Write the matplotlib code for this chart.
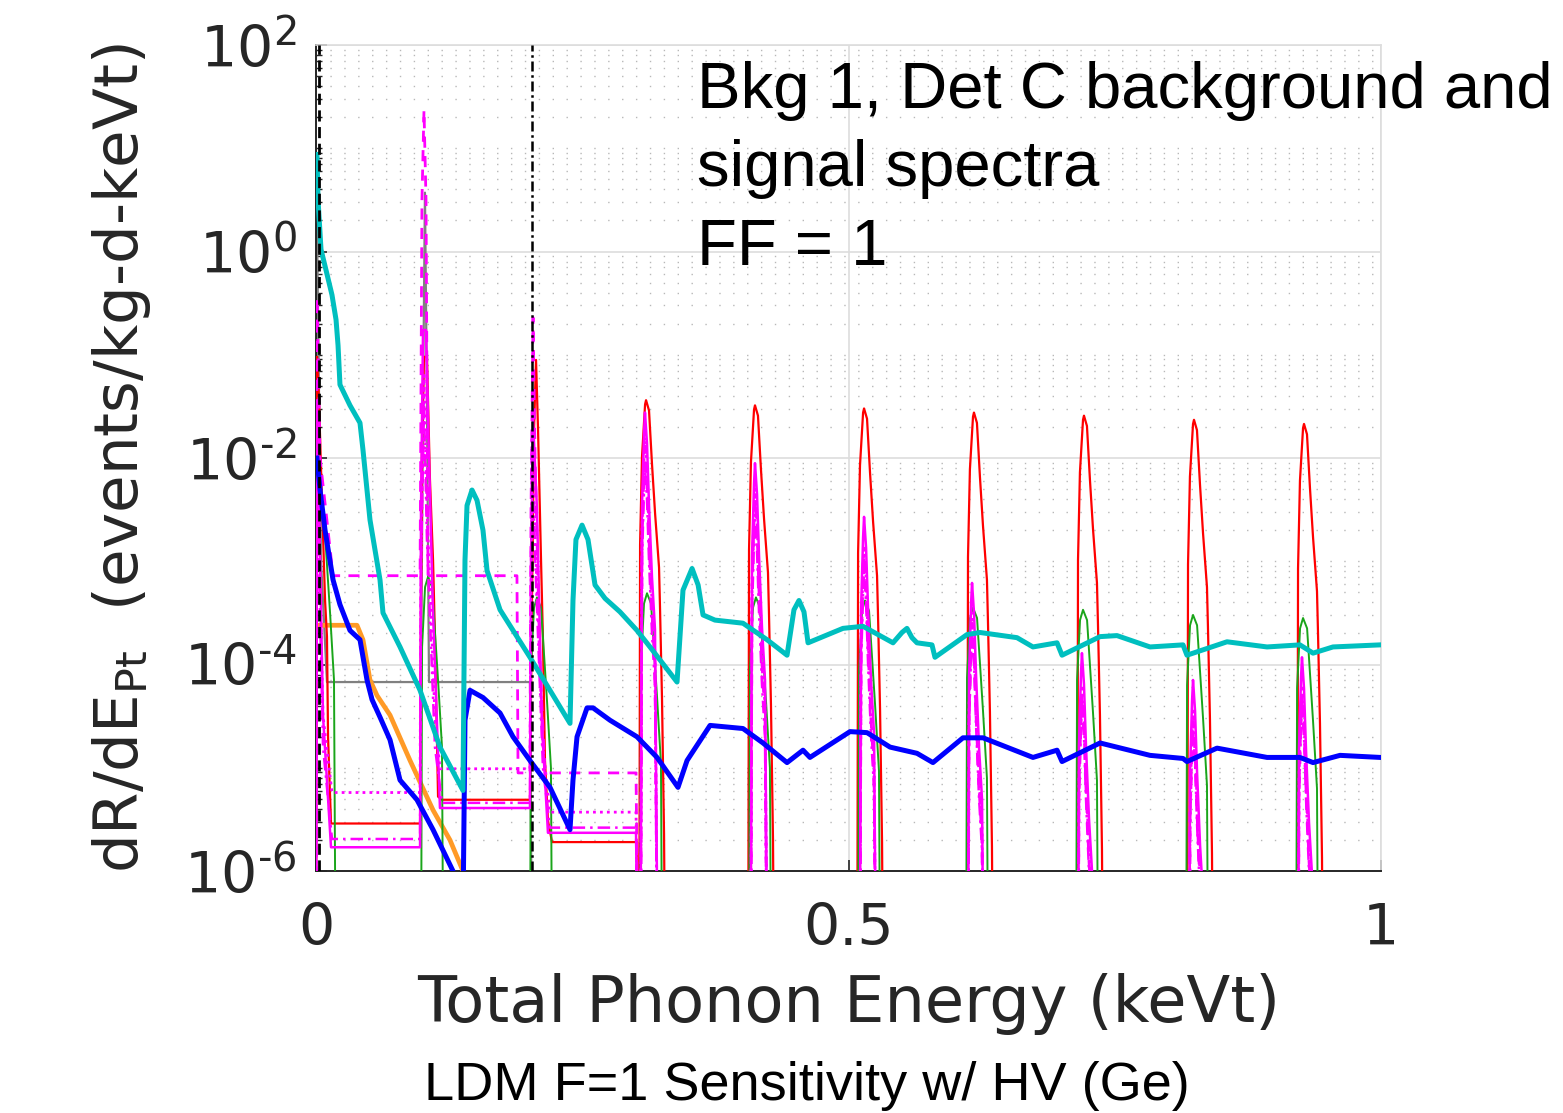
import numpy as np
import matplotlib
matplotlib.use("Agg")
import matplotlib.pyplot as plt
from matplotlib.ticker import LogLocator, FixedLocator, FixedFormatter, NullFormatter, FuncFormatter

# ---- data (x in keVt, y stored as log10 of dR/dE) ----
cyan_x = [0.0009, 0.0019, 0.0047, 0.0094, 0.0150, 0.0188, 0.0207, 0.0225, 0.0319, 0.0413,
          0.0441, 0.0507, 0.0601, 0.0629, 0.0789, 0.0977, 0.1164, 0.1380, 0.1399, 0.1418,
          0.1465, 0.1512, 0.1568, 0.1606, 0.1728, 0.2009, 0.2197, 0.2385, 0.2413, 0.2441,
          0.2498, 0.2554, 0.2620, 0.2714, 0.2854, 0.3014, 0.3136, 0.3390, 0.3446, 0.3531,
          0.3588, 0.3634, 0.3746, 0.4009, 0.4235, 0.4423, 0.4488, 0.4535, 0.4582, 0.4620,
          0.4948, 0.5136, 0.5418, 0.5502, 0.5549, 0.5596, 0.5643, 0.5784, 0.5812, 0.6113,
          0.6235, 0.6582, 0.6732, 0.6958, 0.7005, 0.7362, 0.7521, 0.7831, 0.8141, 0.8178,
          0.8554, 0.8930, 0.9239, 0.9362, 0.9549, 0.9991]
cyan_logy = [0.94, 0.50, 0.02, -0.18, -0.42, -0.66, -0.91, -1.29, -1.49, -1.66,
             -1.92, -2.60, -3.18, -3.50, -3.83, -4.25, -4.80, -5.22, -2.99, -2.46,
             -2.31, -2.41, -2.70, -3.09, -3.47, -3.93, -4.25, -4.57, -3.38, -2.79,
             -2.65, -2.79, -3.23, -3.36, -3.49, -3.67, -3.83, -4.17, -3.28, -3.07,
             -3.23, -3.52, -3.57, -3.60, -3.76, -3.91, -3.47, -3.38, -3.49, -3.79,
             -3.65, -3.63, -3.79, -3.69, -3.65, -3.74, -3.79, -3.81, -3.93, -3.71,
             -3.69, -3.74, -3.83, -3.79, -3.91, -3.73, -3.72, -3.83, -3.81, -3.91,
             -3.78, -3.83, -3.81, -3.89, -3.83, -3.81]

blue_x = [0.0009, 0.0038, 0.0085, 0.0160, 0.0225, 0.0319, 0.0413, 0.0479, 0.0526, 0.0601,
          0.0695, 0.0789, 0.0948, 0.1099, 0.1286, 0.1333, 0.1380, 0.1399, 0.1446, 0.1568,
          0.1728, 0.1850, 0.2009, 0.2197, 0.2385, 0.2413, 0.2451, 0.2545, 0.2601, 0.2761,
          0.3014, 0.3202, 0.3399, 0.3484, 0.3700, 0.4009, 0.4197, 0.4423, 0.4573, 0.4638,
          0.5014, 0.5174, 0.5390, 0.5643, 0.5793, 0.6075, 0.6263, 0.6732, 0.6958, 0.7005,
          0.7362, 0.7831, 0.8141, 0.8178, 0.8460, 0.8930, 0.9239, 0.9362, 0.9615, 0.9991]
blue_logy = [-2.00, -2.31, -2.70, -3.18, -3.42, -3.67, -3.76, -4.15, -4.34, -4.51,
             -4.73, -5.12, -5.31, -5.60, -6.00, -6.47, -6.47, -4.54, -4.25, -4.32,
             -4.47, -4.70, -4.93, -5.19, -5.60, -5.12, -4.70, -4.42, -4.42, -4.54,
             -4.70, -4.90, -5.19, -4.93, -4.59, -4.62, -4.76, -4.95, -4.83, -4.90,
             -4.65, -4.66, -4.80, -4.86, -4.95, -4.71, -4.71, -4.90, -4.83, -4.94,
             -4.76, -4.88, -4.91, -4.94, -4.81, -4.90, -4.90, -4.95, -4.88, -4.90]

orange_x = [0.0009, 0.0385, 0.0441, 0.0507, 0.0573, 0.0695, 0.0883, 0.1099, 0.1258, 0.1380, 0.1446]
orange_logy = [-3.62, -3.62, -3.76, -4.15, -4.30, -4.49, -4.93, -5.41, -5.70, -6.00, -6.28]

gray_x = [0.0000, 0.0009, 0.0047, 0.0103, 0.0986, 0.1005, 0.1023, 0.1042, 0.1061, 0.2009, 0.2028]
gray_logy = [-7.0, 0.30, -3.00, -4.17, -4.17, -1.50, 0.57, -1.50, -4.17, -4.17, -7.0]

# red: low-energy part, then periodic peaks
red_x = [0.0000, 0.0009, 0.0028, 0.0056, 0.0085, 0.0103, 0.0113, 0.0141, 0.0977, 0.0986,
         0.0995, 0.1014, 0.1042, 0.1070, 0.1099, 0.1117, 0.1146, 0.1183, 0.2009, 0.2028,
         0.2047, 0.2066, 0.2085, 0.2113, 0.2131, 0.2150, 0.2178, 0.2216, 0.3014]
red_logy = [-7.0, -1.02, -1.44, -2.41, -3.38, -3.73, -4.70, -5.54, -5.54, -3.38,
            -1.92, -1.02, -1.02, -2.21, -2.99, -3.73, -5.28, -5.31, -5.31, -3.38,
            -1.73, -1.05, -1.73, -2.99, -3.76, -4.93, -5.51, -5.72, -5.72]
red_peak_x = [0.3099, 0.4122, 0.5146, 0.6178, 0.7211, 0.8244, 0.9277]
red_peak_logy = [-1.44, -1.49, -1.52, -1.56, -1.59, -1.63, -1.67]
red_shape_dx = [-0.0066, -0.0056, -0.0038, -0.0009, 0.0, 0.0028, 0.0056, 0.0085, 0.0122, 0.0131, 0.0150, 0.0169, 0.0188]
red_shape_dlogy = [-7.0, -1.40, -0.55, -0.04, 0.0, -0.10, -0.62, -1.10, -1.62, -2.00, -2.90, -4.20, -7.0]

green_peak_x = [0.0038, 0.1052, 0.2075, 0.3108, 0.4131, 0.5155, 0.6169, 0.7202, 0.8235, 0.9268]
green_peak_logy = [-2.50, -3.15, -3.35, -3.31, -3.35, -3.38, -3.45, -3.47, -3.52, -3.55]
green_shape_dx = [-0.0075, -0.0056, -0.0028, 0.0, 0.0038, 0.0066, 0.0094, 0.0131, 0.0160]
green_shape_dlogy = [-7.0, -0.68, -0.10, 0.0, -0.10, -0.55, -1.00, -1.65, -7.0]

mag_peak_x = [0.3089, 0.4122, 0.5146, 0.6160, 0.7192, 0.8235, 0.9258]
mag_shape_dx = [-0.0047, -0.0028, -0.0009, 0.0, 0.0019, 0.0038, 0.0066, 0.0094, 0.0131]
mag_shape_dlogy = [-7.0, -0.90, -0.20, 0.0, -0.30, -0.90, -1.60, -2.10, -7.0]

mag_solid_x = [0.0000, 0.0009, 0.0038, 0.0066, 0.0141, 0.0977, 0.0986, 0.1005, 0.1033, 0.1061,
               0.1099, 0.1164, 0.2009, 0.2019, 0.2038, 0.2075, 0.2122, 0.2178, 0.3005]
mag_solid_logy = [-7.0, -1.50, -3.00, -4.50, -5.77, -5.77, -2.50, -0.76, -0.76, -2.00,
                  -3.50, -5.39, -5.39, -3.00, -1.63, -2.50, -4.60, -5.63, -5.63]
mag_solid_peak_logy = [-1.56, -2.05, -2.57, -3.21, -3.89, -4.15, -3.93]

mag_dash_x = [0.0000, 0.0009, 0.0038, 0.0160, 0.0977, 0.0995, 0.1014, 0.1033, 0.1052, 0.1887,
              0.1897, 0.2009, 0.2019, 0.2038, 0.2057, 0.2103, 0.2150, 0.3005]
mag_dash_logy = [-7.0, -0.44, -2.00, -3.14, -3.14, 0.50, 1.37, 0.50, -3.14, -3.14,
                 -5.05, -5.05, -2.50, -0.64, -2.00, -4.00, -5.05, -5.05]
mag_dash_peak_logy = [-1.90, -2.40, -2.95, -3.60, -4.30, -4.55, -4.30]

mag_dot_x = [0.0000, 0.0009, 0.0066, 0.0150, 0.0977, 0.0986, 0.1014, 0.1042, 0.1117, 0.1164,
             0.2009, 0.2028, 0.2066, 0.2131, 0.2197, 0.3005]
mag_dot_logy = [-7.0, -2.00, -4.50, -5.24, -5.24, -3.00, -1.20, -2.50, -4.50, -5.01,
                -5.01, -1.80, -3.00, -4.80, -5.43, -5.43]
mag_dot_peak_logy = [-1.80, -2.30, -2.85, -3.50, -4.20, -4.45, -4.20]

mag_dd_x = [0.0000, 0.0009, 0.0066, 0.0150, 0.0977, 0.0986, 0.1014, 0.1042, 0.1117, 0.1183,
            0.2009, 0.2028, 0.2066, 0.2131, 0.2197, 0.3005]
mag_dd_logy = [-7.0, -2.20, -4.80, -5.69, -5.69, -3.00, -1.50, -2.80, -4.80, -5.34,
               -5.34, -2.00, -3.20, -5.00, -5.58, -5.58]
mag_dd_peak_logy = [-2.10, -2.60, -3.10, -3.70, -4.40, -4.65, -4.40]

black_dash_x = 0.003
black_dashdot_x = 0.2028

xticks = [0, 0.5, 1]
xticklabels = ['0', '0.5', '1']


def with_peaks(x0, y0, centers, heights, dx, dy):
    xs, ys = list(x0), list(y0)
    for c, h in zip(centers, heights):
        xs += [c + d for d in dx]
        ys += [h + d for d in dy]
    return np.array(xs), 10.0 ** np.array(ys)


W, H = 1563, 1113
fig = plt.figure(figsize=(W / 100, H / 100), dpi=100)
ax = fig.add_axes([316 / W, 1 - 871 / H, 1065 / W, 826 / H])

tc = '#262626'

gx, gy = np.array(gray_x), 10.0 ** np.array(gray_logy)
ax.plot(gx, gy, color='#808080', lw=1.6, zorder=2)
ax.plot(orange_x, 10.0 ** np.array(orange_logy), color='#ff9a26', lw=3.4, zorder=3)
rx, ry = with_peaks(red_x, red_logy, red_peak_x, red_peak_logy, red_shape_dx, red_shape_dlogy)
ax.plot(rx, ry, color='red', lw=1.6, zorder=3)
grx, gry = with_peaks([], [], green_peak_x, green_peak_logy, green_shape_dx, green_shape_dlogy)
ax.plot(grx, gry, color='#1aa51a', lw=1.4, zorder=3)

mx, my = with_peaks(mag_solid_x, mag_solid_logy, mag_peak_x, mag_solid_peak_logy, mag_shape_dx, mag_shape_dlogy)
ax.plot(mx, my, color='magenta', lw=1.8, zorder=4)
mx, my = with_peaks(mag_dash_x, mag_dash_logy, mag_peak_x, mag_dash_peak_logy, mag_shape_dx, mag_shape_dlogy)
ax.plot(mx, my, color='magenta', lw=2.0, ls=(0, (4, 3)), zorder=4)
mx, my = with_peaks(mag_dot_x, mag_dot_logy, mag_peak_x, mag_dot_peak_logy, mag_shape_dx, mag_shape_dlogy)
ax.plot(mx, my, color='magenta', lw=2.0, ls=(0, (1, 1.5)), zorder=4)
mx, my = with_peaks(mag_dd_x, mag_dd_logy, mag_peak_x, mag_dd_peak_logy, mag_shape_dx, mag_shape_dlogy)
ax.plot(mx, my, color='magenta', lw=1.8, ls=(0, (5, 2, 1, 2)), zorder=4)

ax.plot(blue_x, 10.0 ** np.array(blue_logy), color='#0000ff', lw=3.6, zorder=5)
ax.plot(cyan_x, 10.0 ** np.array(cyan_logy), color='#00bfbf', lw=3.6, zorder=6)

ax.axvline(black_dash_x, color='black', lw=2.0, ls=(0, (4, 2)), zorder=7)
ax.axvline(black_dashdot_x, color='black', lw=1.8, ls=(0, (4, 1.5, 1, 1.5)), zorder=7)

ax.set_yscale('log')
ax.set_xlim(0, 1)
ax.set_ylim(1e-6, 1e2)
ax.yaxis.set_major_locator(LogLocator(base=100.0, numticks=10))
ax.yaxis.set_major_formatter(FuncFormatter(
    lambda v, p: r'$\mathregular{10^{%s}}$' % str(int(round(np.log10(v)))).replace('-', '\u2010')))
ax.yaxis.set_minor_locator(LogLocator(base=10.0, subs=np.arange(1, 10), numticks=100))
ax.yaxis.set_minor_formatter(NullFormatter())
ax.xaxis.set_major_locator(FixedLocator(xticks))
ax.xaxis.set_major_formatter(FixedFormatter(xticklabels))

ax.grid(which='major', color='#dddddd', lw=1.2, ls='-', zorder=0)
ax.grid(which='minor', axis='y', color='#b8b8b8', lw=1.0, ls=(0, (1, 9)), zorder=0)
ax.set_axisbelow(True)

for s in ['left', 'bottom']:
    ax.spines[s].set_color(tc)
    ax.spines[s].set_linewidth(1.4)
for s in ['top', 'right']:
    ax.spines[s].set_color('#dddddd')
    ax.spines[s].set_linewidth(1.2)

ax.tick_params(which='both', direction='in', colors=tc, top=False, right=False)
ax.tick_params(which='major', length=8, width=1.2, labelsize=41, pad=14)
ax.tick_params(which='minor', length=4, width=1.0)
ax.tick_params(axis='x', pad=22)

ax.set_xlabel('Total Phonon Energy (keVt)', fontsize=46, color=tc, labelpad=12)
ax.set_ylabel(r'dR/dE$_{\mathrm{Pt}}$  (events/kg-d-keVt)', fontsize=44, color=tc, labelpad=22)

fig.text(697 / W, 1 - 61 / H, 'Bkg 1, Det C background and\nsignal spectra\nFF = 1',
         fontsize=47, family='Liberation Sans', color='black', va='top', ha='left',
         linespacing=1.39)
fig.text(807 / W, 1 - 1100 / H, 'LDM F=1 Sensitivity w/ HV (Ge)', fontsize=39,
         family='Liberation Sans', color='black', ha='center', va='baseline')

fig.savefig('out.png', dpi=100)
